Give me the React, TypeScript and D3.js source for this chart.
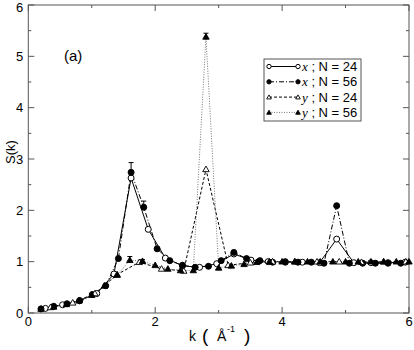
import React from 'react';
import * as d3 from 'd3';

const width = 414;
const height = 350;
const margin = { left: 28.3, right: 5, top: 5, bottom: 37 };

// x direction, N = 24 (open circles, solid)
const kX24 = [0.27, 0.54, 0.81, 1.08, 1.35, 1.62, 1.89, 2.16, 2.43, 2.70, 2.97, 3.24, 3.51, 3.78, 4.05, 4.32, 4.59, 4.86, 5.13, 5.40, 5.67, 5.94];
const sX24 = [0.09, 0.16, 0.24, 0.38, 0.76, 2.63, 1.63, 1.07, 0.92, 0.89, 0.96, 1.15, 1.03, 1.0, 1.0, 0.99, 0.98, 1.44, 0.98, 0.98, 0.98, 0.99];

// x direction, N = 56 (filled circles, dash-dot)
const kX56 = [0.20, 0.40, 0.61, 0.81, 1.01, 1.22, 1.42, 1.62, 1.82, 2.03, 2.23, 2.43, 2.63, 2.84, 3.04, 3.24, 3.44, 3.65, 3.85, 4.05, 4.25, 4.46, 4.66, 4.86, 5.06, 5.27, 5.47, 5.67, 5.87];
const sX56 = [0.08, 0.13, 0.18, 0.24, 0.36, 0.53, 1.06, 2.74, 2.06, 1.25, 1.02, 0.93, 0.89, 0.91, 1.02, 1.18, 1.06, 1.02, 0.99, 0.99, 0.99, 0.99, 0.97, 2.09, 0.97, 0.97, 0.97, 0.97, 0.97];
const eX56 = [0, 0, 0, 0, 0, 0, 0.02, 0.19, 0.12, 0.03, 0, 0, 0, 0, 0, 0.02, 0, 0, 0, 0, 0, 0, 0, 0, 0, 0, 0, 0, 0];

// y direction, N = 24 (open triangles, dashed)
const kY24 = [0.35, 0.70, 1.05, 1.40, 1.75, 2.10, 2.45, 2.80, 3.15, 3.50, 3.85, 4.20, 4.55, 4.90, 5.25, 5.60, 5.95];
const sY24 = [0.11, 0.2, 0.38, 0.75, 0.99, 0.86, 0.82, 2.8, 0.93, 0.98, 1.0, 1.0, 1.0, 1.0, 0.99, 1.0, 1.0];

// y direction, N = 56 (filled triangles, dotted)
const kY56 = [0.2, 0.4, 0.6, 0.8, 1.0, 1.2, 1.4, 1.6, 1.8, 2.0, 2.2, 2.4, 2.6, 2.8, 3.0, 3.2, 3.4, 3.6, 3.8, 4.0, 4.2, 4.4, 4.6, 4.8, 5.0, 5.2, 5.4, 5.6, 5.8, 6.0];
const sY56 = [0.08, 0.12, 0.17, 0.24, 0.35, 0.53, 0.74, 1.03, 1.01, 0.93, 0.86, 0.83, 0.83, 5.38, 0.88, 0.92, 0.95, 0.99, 1.0, 1.0, 1.0, 1.0, 1.0, 1.0, 1.0, 1.0, 1.0, 1.0, 1.0, 1.0];
const eY56 = [0, 0, 0, 0, 0, 0, 0, 0.07, 0.03, 0, 0, 0, 0, 0.07, 0, 0, 0, 0, 0, 0, 0, 0, 0, 0, 0, 0, 0, 0, 0, 0];

const xTicks = [0, 2, 4, 6];
const xMinor = [1, 3, 5];
const yTicks = [0, 1, 2, 3, 4, 5, 6];
const yMinor = [0.5, 1.5, 2.5, 3.5, 4.5, 5.5];

const series = [
  { k: kX24, s: sX24, e: null, dir: 'x', n: 24, marker: 'circle', filled: false, dash: null, stroke: '#000' },
  { k: kX56, s: sX56, e: eX56, dir: 'x', n: 56, marker: 'circle', filled: true, dash: '5,2,1,2', stroke: '#000' },
  { k: kY24, s: sY24, e: null, dir: 'y', n: 24, marker: 'triangle', filled: false, dash: '3,2', stroke: '#000' },
  { k: kY56, s: sY56, e: eY56, dir: 'y', n: 56, marker: 'triangle', filled: true, dash: '1,1.5', stroke: '#777' },
];

const Marker = ({ type, filled, x, y, scale = 1 }: any) => {
  if (type === 'circle') {
    return <circle cx={x} cy={y} r={3 * scale} fill={filled ? '#000' : '#fff'} stroke="#000" strokeWidth={1} />;
  }
  const sym = d3.symbol(d3.symbolTriangle, 18 * scale * scale)();
  return <path d={sym || ''} transform={`translate(${x},${y + 0.5})`} fill={filled ? '#000' : '#fff'} stroke="#000" strokeWidth={0.9} />;
};

export default function App() {
  const x = d3.scaleLinear().domain([0, 6]).range([margin.left, width - margin.right]);
  const y = d3.scaleLinear().domain([0, 6]).range([height - margin.bottom, margin.top]);
  const x0 = x(0), x1 = x(6), y0 = y(0), y1 = y(6);
  const font = 'Liberation Sans, Arial, sans-serif';

  return (
    <svg width={width} height={height} style={{ position: 'absolute', left: 0, top: 0, background: '#fff' }} fontFamily={font}>
      {/* ticks */}
      {xTicks.map(t => (
        <g key={'xt' + t}>
          <line x1={x(t)} x2={x(t)} y1={y0} y2={y0 - 6} stroke="#555" />
          <line x1={x(t)} x2={x(t)} y1={y1} y2={y1 + 6} stroke="#555" />
          <text x={x(t)} y={y0 + 13} textAnchor="middle" fontSize={13}>{t}</text>
        </g>
      ))}
      {xMinor.map(t => (
        <g key={'xm' + t}>
          <line x1={x(t)} x2={x(t)} y1={y0} y2={y0 - 3} stroke="#555" />
          <line x1={x(t)} x2={x(t)} y1={y1} y2={y1 + 3} stroke="#555" />
        </g>
      ))}
      {yTicks.map(t => (
        <g key={'yt' + t}>
          <line x1={x0} x2={x0 + 6} y1={y(t)} y2={y(t)} stroke="#555" />
          <line x1={x1} x2={x1 - 6} y1={y(t)} y2={y(t)} stroke="#555" />
          <text x={x0 - 5} y={Math.max(y(t) + 4.5, 11.5)} textAnchor="end" fontSize={13}>{t}</text>
        </g>
      ))}
      {yMinor.map(t => (
        <g key={'ym' + t}>
          <line x1={x0} x2={x0 + 3} y1={y(t)} y2={y(t)} stroke="#555" />
          <line x1={x1} x2={x1 - 3} y1={y(t)} y2={y(t)} stroke="#555" />
        </g>
      ))}
      <rect x={x0} y={y1} width={x1 - x0} height={y0 - y1} fill="none" stroke="#555" strokeWidth={1} />

      {/* series lines */}
      {series.map((sr, i) => {
        const pts = sr.k.map((k, j) => [k, sr.s[j]] as [number, number]);
        const line = d3.line<[number, number]>().x(d => x(d[0])).y(d => y(d[1]));
        return <path key={'l' + i} d={line(pts) || ''} fill="none" stroke={sr.stroke} strokeWidth={1} strokeDasharray={sr.dash || undefined} />;
      })}
      {/* error bars */}
      {series.map((sr, i) => sr.e ? sr.k.map((k, j) => sr.e![j] > 0 ? (
        <g key={`e${i}-${j}`}>
          <line x1={x(k)} x2={x(k)} y1={y(sr.s[j])} y2={y(sr.s[j] + sr.e![j])} stroke="#000" />
          <line x1={x(k) - 2.5} x2={x(k) + 2.5} y1={y(sr.s[j] + sr.e![j])} y2={y(sr.s[j] + sr.e![j])} stroke="#000" />
        </g>
      ) : null) : null)}
      {/* markers */}
      {series.map((sr, i) => sr.k.map((k, j) => (
        <Marker key={`m${i}-${j}`} type={sr.marker} filled={sr.filled} x={x(k)} y={y(sr.s[j])} />
      )))}

      {/* panel label */}
      <text x={64} y={61} fontSize={15}>(a)</text>

      {/* legend */}
      <rect x={264} y={59} width={97} height={62} fill="#fff" stroke="#555" />
      {series.map((sr, i) => {
        const ly = 66.5 + i * 15.3;
        return (
          <g key={'lg' + i}>
            <line x1={269} x2={298} y1={ly} y2={ly} stroke={sr.stroke} strokeDasharray={sr.dash || undefined} />
            <Marker type={sr.marker} filled={sr.filled} x={269} y={ly} scale={0.72} />
            <Marker type={sr.marker} filled={sr.filled} x={298} y={ly} scale={0.72} />
            <text x={302} y={ly + 4.5} fontSize={13}>
              <tspan fontFamily="Liberation Serif, serif" fontStyle="italic">{sr.dir}</tspan>
              <tspan> ; N = {sr.n}</tspan>
            </text>
          </g>
        );
      })}

      {/* axis titles */}
      <text transform={`translate(15,152) rotate(-90)`} textAnchor="middle" fontSize={13}>S(k)</text>
      <text x={189} y={341} fontSize={14}>k</text>
      <text x={202} y={342} fontSize={19}>(</text>
      <text x={217} y={341} fontSize={14}>Å</text>
      <text x={227} y={332} fontSize={9}>-1</text>
      <text x={244} y={342} fontSize={19}>)</text>
    </svg>
  );
}
